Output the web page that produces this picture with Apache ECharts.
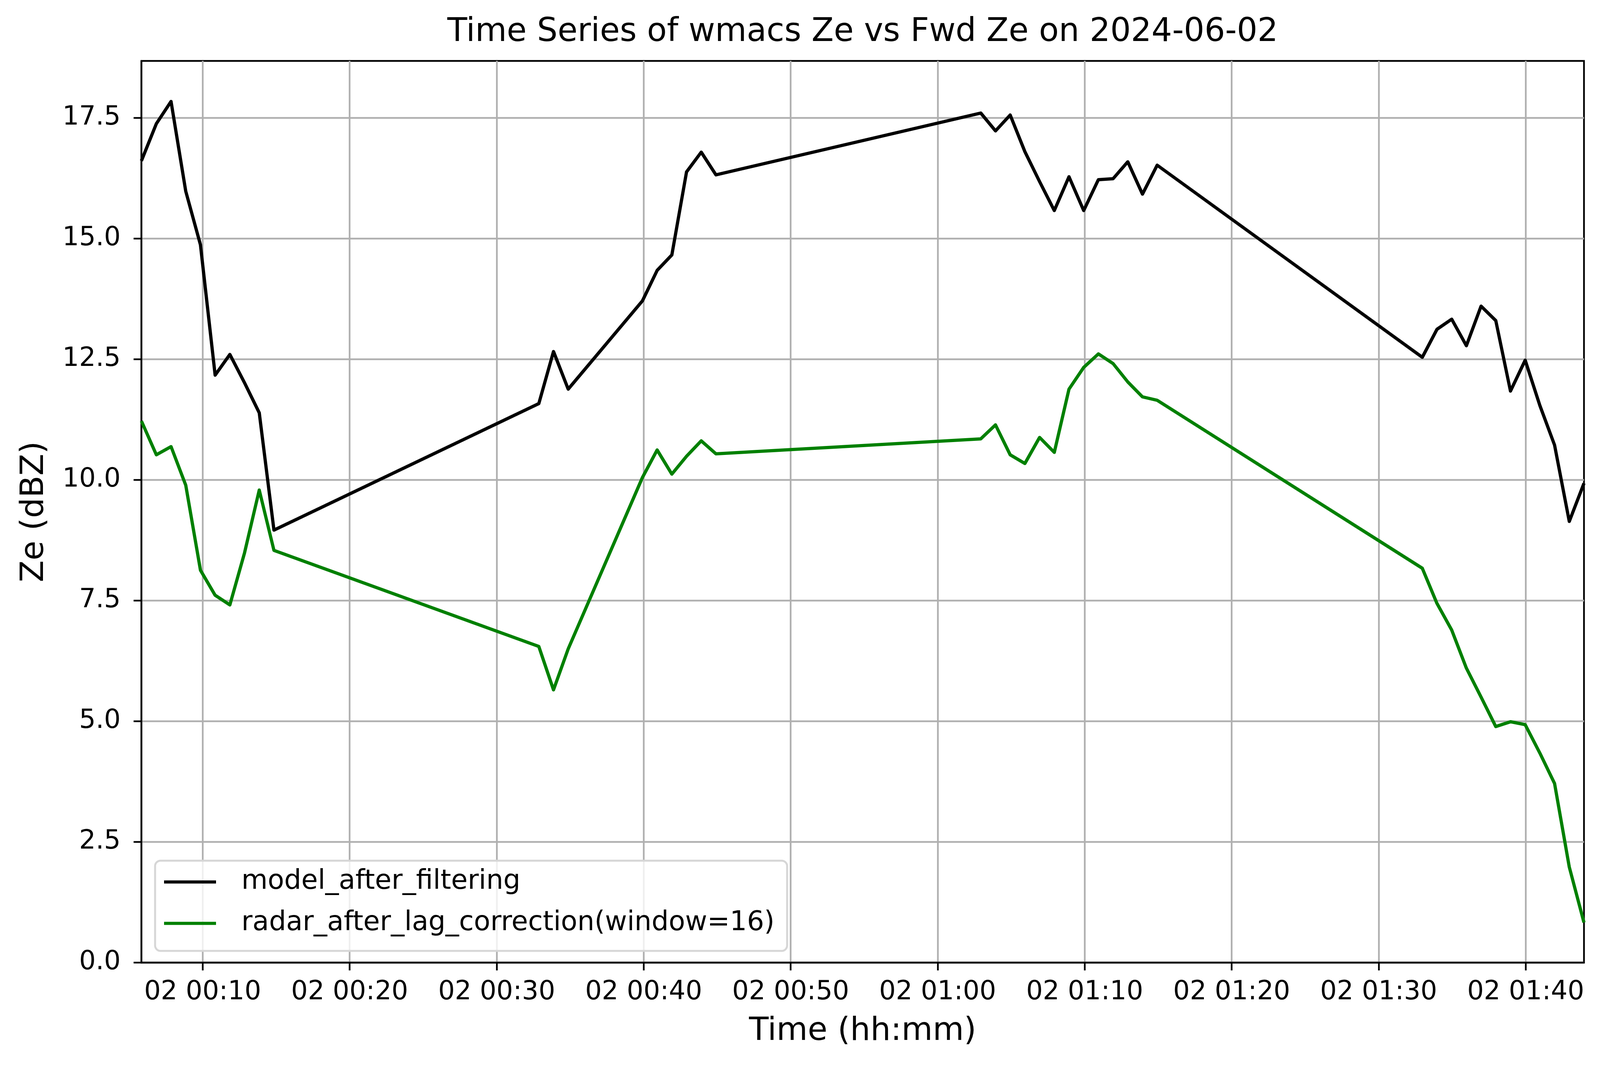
<!DOCTYPE html>
<html>
<head>
<meta charset="utf-8">
<script src="https://cdn.jsdelivr.net/npm/echarts@6/dist/echarts.min.js"></script>
<style>
  html, body { margin: 0; padding: 0; background: #fff; overflow: hidden; }
  #chart { width: 100vw; height: 100vh; }
</style>
</head>
<body>
<div id="chart"></div>
<script>
// sample times on 2024-06-02 (hh:mm:ss)
var times = [
  '00:05:50', '00:06:51', '00:07:51', '00:08:51', '00:09:51', '00:10:51', '00:11:51', '00:12:51', '00:13:51', '00:14:51',
  '00:32:52', '00:33:52', '00:34:52',
  '00:39:55', '00:40:55', '00:41:55', '00:42:55', '00:43:55', '00:44:55',
  '01:02:56', '01:03:56', '01:04:56', '01:05:56', '01:06:56', '01:07:56', '01:08:56', '01:09:56', '01:10:56',
  '01:11:56', '01:12:56', '01:13:56', '01:14:56',
  '01:32:58', '01:33:58', '01:34:58', '01:35:58', '01:36:58', '01:37:58', '01:38:58', '01:39:58', '01:40:58',
  '01:41:58', '01:42:58', '01:43:58'
];

var modelZe = [
  16.61, 17.38, 17.84, 15.98, 14.87, 12.17, 12.60, 12.01, 11.39, 8.96,
  11.58, 12.66, 11.88,
  13.71, 14.34, 14.66, 16.38, 16.79, 16.32,
  17.60, 17.23, 17.56, 16.80, 16.18, 15.58, 16.28, 15.58, 16.22, 16.24, 16.59, 15.92, 16.52,
  12.54, 13.12, 13.33, 12.78, 13.60, 13.30, 11.84, 12.48, 11.54, 10.72, 9.14, 9.93
];

var radarZe = [
  11.22, 10.52, 10.69, 9.89, 8.13, 7.61, 7.41, 8.49, 9.79, 8.54,
  6.55, 5.65, 6.50,
  10.05, 10.62, 10.12, 10.49, 10.81, 10.54,
  10.85, 11.14, 10.52, 10.34, 10.88, 10.57, 11.88, 12.33, 12.61, 12.41, 12.03, 11.72, 11.65,
  8.17, 7.44, 6.89, 6.10, 5.50, 4.89, 4.99, 4.93, 4.34, 3.71, 1.98, 0.83
];

var xTickLabels = ['00:10', '00:20', '00:30', '00:40', '00:50', '01:00', '01:10', '01:20', '01:30', '01:40'];
var yTicks = [0, 2.5, 5, 7.5, 10, 12.5, 15, 17.5];

// hh:mm(:ss) -> minutes after midnight
function toMin(s) {
  var p = s.split(':');
  return (+p[0]) * 60 + (+p[1]) + (p[2] ? (+p[2]) / 60 : 0);
}
function pad(n) { return (n < 10 ? '0' : '') + n; }

var xs = times.map(toMin);
var xTicks = xTickLabels.map(toMin);
var modelData = xs.map(function (x, i) { return [x, modelZe[i]]; });
var radarData = xs.map(function (x, i) { return [x, radarZe[i]]; });

// the browser caps the viewport width, so lay out against what we really get
var W = window.innerWidth || 5062;
var H = window.innerHeight || 2740;
var sy = H / 2740;

var gridLeft = 362, gridRight = Math.round(51 * W / 5062);
var gridTop = Math.round(156 * sy), gridBottom = Math.round(275 * sy);
var plotMid = gridLeft + (W - gridLeft - gridRight) / 2;

var chart = echarts.init(document.getElementById('chart'), null, {
  width: W, height: H, renderer: 'canvas', devicePixelRatio: 1
});

var font = 'DejaVu Sans';
var gridColor = '#b0b0b0';

var option = {
  backgroundColor: '#ffffff',
  animation: false,
  title: {
    text: 'Time Series of wmacs Ze vs Fwd Ze on 2024-06-02',
    left: plotMid,
    top: Math.round(42 * sy),
    padding: 0,
    textAlign: 'center',
    textStyle: { fontFamily: font, fontSize: 83, fontWeight: 'normal', color: '#000' }
  },
  legend: {
    orient: 'vertical',
    left: gridLeft + 35,
    top: Math.round(2204 * sy),
    padding: [20, 32, 36, 23],
    itemGap: 37,
    itemWidth: 133,
    itemHeight: 8,
    icon: 'rect',
    backgroundColor: 'rgba(255,255,255,0.8)',
    borderColor: '#d6d6d6',
    borderWidth: 5,
    borderRadius: 14,
    textStyle: { fontFamily: font, fontSize: 69, color: '#000', padding: [0, 0, 0, 60] },
    data: ['model_after_filtering', 'radar_after_lag_correction(window=16)']
  },
  grid: {
    left: gridLeft, right: gridRight, top: gridTop, bottom: gridBottom,
    show: true,
    borderColor: '#000',
    borderWidth: 4.4,
    backgroundColor: 'transparent'
  },
  xAxis: {
    type: 'value',
    min: Math.min.apply(null, xs),
    max: Math.max.apply(null, xs),
    name: 'Time (hh:mm)',
    nameLocation: 'middle',
    nameGap: 136,
    nameTextStyle: { fontFamily: font, fontSize: 82, color: '#000' },
    axisLine: { show: true, onZero: false, lineStyle: { color: '#000', width: 4.4 } },
    axisTick: { show: true, inside: false, length: 20, customValues: xTicks, lineStyle: { color: '#000', width: 4.4 } },
    axisLabel: {
      show: true,
      margin: 43,
      customValues: xTicks,
      fontFamily: font, fontSize: 67, color: '#000',
      formatter: function (v) {
        var m = Math.round(v);
        return '02 ' + pad(Math.floor(m / 60)) + ':' + pad(m % 60);
      }
    },
    splitLine: { show: true, lineStyle: { color: gridColor, width: 4.4 } }
  },
  yAxis: {
    type: 'value',
    min: 0,
    max: 18.68,
    name: 'Ze (dBZ)',
    nameLocation: 'middle',
    nameGap: 232,
    nameTextStyle: { fontFamily: font, fontSize: 82, color: '#000' },
    axisLine: { show: true, lineStyle: { color: '#000', width: 4.4 } },
    axisTick: { show: true, inside: false, length: 20, customValues: yTicks, lineStyle: { color: '#000', width: 4.4 } },
    axisLabel: {
      show: true,
      margin: 53,
      customValues: yTicks,
      fontFamily: font, fontSize: 67, color: '#000',
      formatter: function (v) { return v.toFixed(1); }
    },
    splitLine: { show: true, lineStyle: { color: gridColor, width: 4.4 } }
  },
  series: [
    {
      name: 'model_after_filtering',
      type: 'line',
      data: modelData,
      symbol: 'none',
      color: '#000000',
      lineStyle: { color: '#000000', width: 8.3, join: 'round' },
      clip: true
    },
    {
      name: 'radar_after_lag_correction(window=16)',
      type: 'line',
      data: radarData,
      symbol: 'none',
      color: '#008000',
      lineStyle: { color: '#008000', width: 8.3, join: 'round' },
      clip: true
    }
  ]
};

chart.setOption(option);
</script>
</body>
</html>
